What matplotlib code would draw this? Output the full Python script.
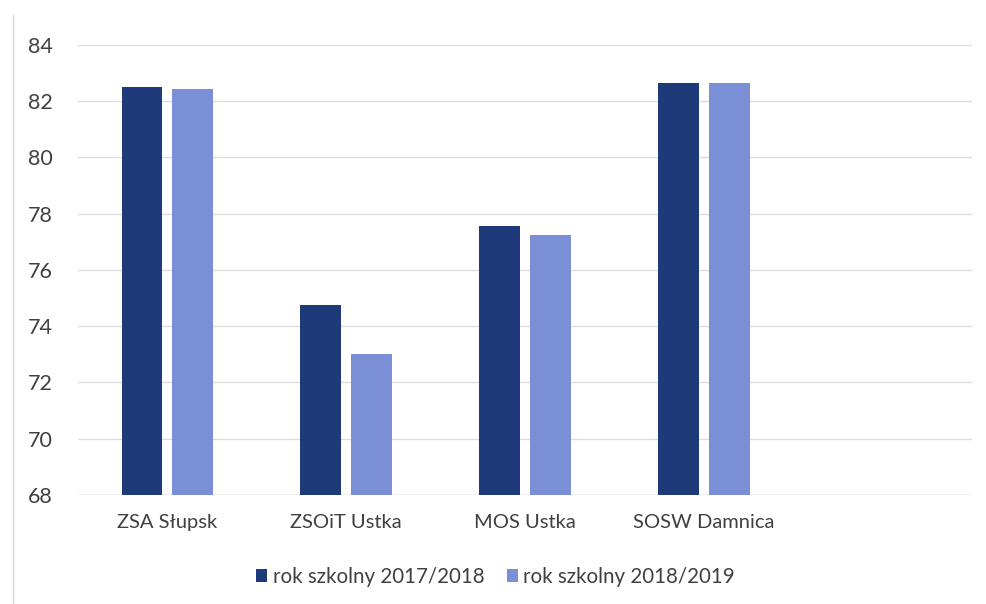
import matplotlib
matplotlib.use("Agg")
import matplotlib.pyplot as plt
import numpy as np

categories = ["ZSA Słupsk", "ZSOiT Ustka", "MOS Ustka", "SOSW Damnica"]
series_names = ["rok szkolny 2017/2018", "rok szkolny 2018/2019"]
values_2017 = [82.5, 74.75, 77.55, 82.65]
values_2018 = [82.43, 73.02, 77.25, 82.65]
y_ticks = [68, 70, 72, 74, 76, 78, 80, 82, 84]

plt.rcParams['font.family'] = ['Lato', 'DejaVu Sans']
text_color = "#404040"
dark = "#1f3a78"
light = "#7b8fd6"

fig = plt.figure(figsize=(9.87, 6.04), dpi=100)
ax = fig.add_axes([0.079, 0.1805, 0.906, 0.745])

x = np.arange(len(categories))
w = 0.228
off = 0.142
ax.bar(x - off, values_2017, width=w, color=dark, label=series_names[0], zorder=2)
ax.bar(x + off, values_2018, width=w, color=light, label=series_names[1], zorder=2)

ax.set_xlim(-0.5, 4.5)
ax.set_ylim(68, 84)
ax.set_yticks(y_ticks)
ax.set_yticklabels([str(t) for t in y_ticks], fontsize=15.5, color=text_color)
ax.set_xticks(x)
ax.set_xticklabels(categories, fontsize=14.5, color=text_color)
ax.tick_params(axis='y', length=0, pad=18)
ax.tick_params(axis='x', length=0, pad=14)
ax.grid(axis='y', color="#dcdcdc", linewidth=1, zorder=0)
for s in ax.spines.values():
    s.set_visible(False)
ax.axhline(68, color="#d0d0d0", linewidth=1, zorder=1)

leg = fig.legend(loc='center', bbox_to_anchor=(0.502, 0.045), ncol=2, frameon=False,
                 fontsize=14.8, handlelength=0.55, handleheight=0.55, handletextpad=0.25,
                 columnspacing=1.1)
for t in leg.get_texts():
    t.set_color(text_color)

# faint chart border on the left
fig.add_artist(plt.Line2D([0.013, 0.013], [0.0, 0.975], color="#d8d8d8", linewidth=1))

fig.savefig("out.png", dpi=100, facecolor="white")
